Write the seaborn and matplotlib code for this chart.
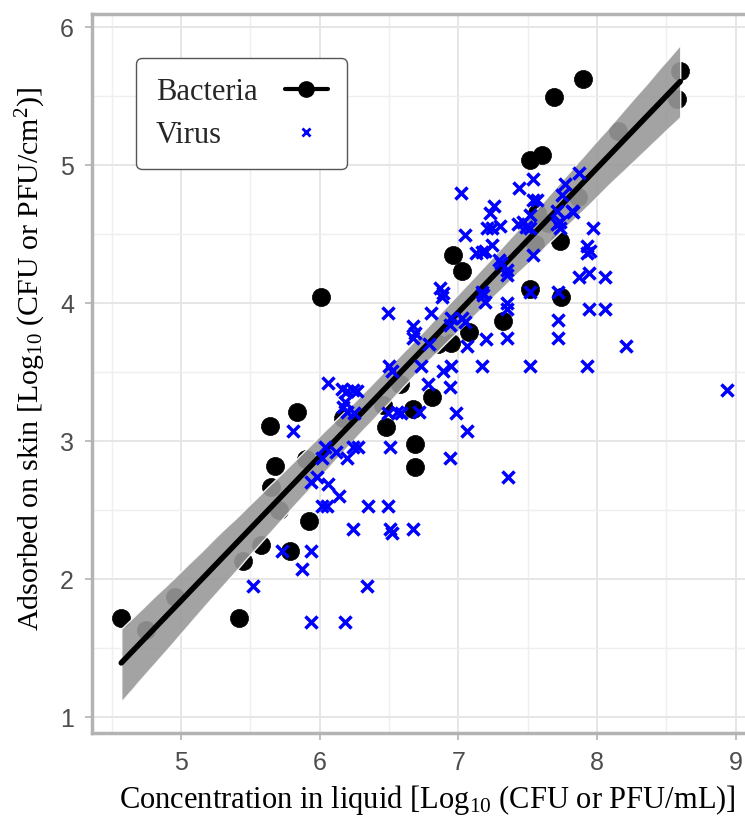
import numpy as np
import pandas as pd
import matplotlib
matplotlib.use("Agg")
import matplotlib.pyplot as plt
from matplotlib.lines import Line2D
import seaborn as sns

# ---- data ----
bact_x = [4.57, 4.75, 4.96, 5.42, 5.45, 5.58, 5.64, 5.65, 5.68, 5.71, 5.79, 5.84,
          5.90, 5.92, 6.01, 6.17, 6.46, 6.48, 6.58, 6.67, 6.69, 6.69, 6.81, 6.85,
          6.95, 6.96, 7.03, 7.08, 7.32, 7.52, 7.52, 7.55, 7.57, 7.60, 7.65, 7.69,
          7.73, 7.74, 7.86, 7.90, 8.15, 8.58, 8.60]
bact_y = [1.72, 1.63, 1.87, 1.72, 2.13, 2.25, 3.11, 2.67, 2.82, 2.50, 2.20, 3.21,
          2.87, 2.42, 4.04, 3.17, 3.26, 3.10, 3.41, 3.23, 2.98, 2.81, 3.32, 3.70,
          3.71, 4.35, 4.23, 3.79, 3.87, 4.10, 5.04, 4.43, 4.65, 5.07, 4.58, 5.49,
          4.45, 4.04, 4.77, 5.62, 5.25, 5.48, 5.68]

virus_x = [5.52, 5.73, 5.87, 5.94, 5.94, 6.18, 6.34, 5.81, 5.98, 5.94, 6.06, 6.14,
           6.02, 6.05, 6.35, 6.49, 6.24, 6.51, 6.52, 6.67,
           6.06, 6.16, 6.20, 6.24, 6.27, 6.18, 6.17, 6.20, 6.25, 6.04, 6.02, 6.12,
           6.20, 6.24, 6.28, 6.51, 6.49, 6.56, 6.59, 6.72, 6.98, 6.50, 6.52, 6.73,
           6.89, 6.95, 6.78, 6.94, 6.94, 7.06, 7.36, 6.49, 6.67, 6.69, 6.67, 6.79,
           7.17, 7.52, 7.93, 8.21, 7.72, 7.72, 7.35, 7.20, 7.06, 6.95, 6.94, 7.03,
           7.05, 6.80, 6.87, 6.89, 6.88, 7.17, 7.18, 7.19, 7.52, 7.72, 7.35, 7.35,
           7.94, 8.06, 7.87, 7.94, 8.06, 8.94,
           7.05, 7.13, 7.17, 7.19, 7.24, 7.29, 7.31, 7.35, 7.35, 7.21, 7.24, 7.30,
           7.26, 7.23, 7.02, 7.44, 7.54, 7.54, 7.57, 7.43, 7.47, 7.49, 7.52, 7.52,
           7.54, 7.71, 7.82, 7.83, 7.73, 7.71, 7.73, 7.75, 7.77, 7.87, 7.97, 7.93,
           7.95, 7.93]
virus_y = [1.95, 2.20, 2.07, 2.20, 1.69, 1.69, 1.95, 3.07, 2.74, 2.70, 2.69, 2.60,
           2.53, 2.53, 2.53, 2.53, 2.36, 2.36, 2.33, 2.36,
           3.42, 3.38, 3.36, 3.37, 3.36, 3.28, 3.25, 3.21, 3.20, 2.96, 2.88, 2.92,
           2.88, 2.96, 2.96, 2.96, 3.20, 3.21, 3.20, 3.21, 3.20, 3.54, 3.51, 3.54,
           3.51, 3.54, 3.41, 3.39, 2.88, 3.07, 2.74, 3.93, 3.83, 3.78, 3.75, 3.70,
           3.54, 3.54, 3.54, 3.69, 3.75, 3.88, 3.75, 3.74, 3.69, 3.89, 3.84, 3.89,
           3.86, 3.93, 4.11, 4.07, 4.04, 4.08, 4.06, 4.01, 4.08, 4.08, 4.00, 3.96,
           3.96, 3.96, 4.19, 4.22, 4.19, 3.37,
           4.49, 4.36, 4.37, 4.38, 4.42, 4.31, 4.29, 4.24, 4.20, 4.54, 4.54, 4.56,
           4.70, 4.65, 4.80, 4.83, 4.90, 4.75, 4.75, 4.57, 4.59, 4.55, 4.54, 4.64,
           4.35, 4.67, 4.67, 4.66, 4.59, 4.57, 4.54, 4.78, 4.86, 4.94, 4.54, 4.41,
           4.38, 4.36]

series_labels = ["Bacteria", "Virus"]
x_ticks = [5, 6, 7, 8, 9]
y_ticks = [1, 2, 3, 4, 5, 6]

bact = pd.DataFrame({"x": bact_x, "y": bact_y})
virus = pd.DataFrame({"x": virus_x, "y": virus_y})

# ---- style ----
sns.set_theme(style="whitegrid")
plt.rcParams["font.family"] = ["Liberation Sans", "DejaVu Sans"]
plt.rcParams["mathtext.fontset"] = "custom"
plt.rcParams["mathtext.rm"] = "Liberation Serif"
plt.rcParams["mathtext.it"] = "Liberation Serif:italic"

fig = plt.figure(figsize=(7.45, 8.17), dpi=100)
ax = fig.add_axes([0.1235, 0.1028, 0.8765, 0.880])

# bacteria points
sns.scatterplot(data=bact, x="x", y="y", ax=ax, color="black", s=170,
                edgecolor="black", linewidth=0.5, zorder=2)
# regression on bacteria
sns.regplot(data=bact, x="x", y="y", ax=ax, scatter=False, ci=95, seed=3,
            color="black", line_kws=dict(color="black", lw=4, zorder=4))
for coll in ax.collections[1:]:
    coll.set_facecolor("#999999")
    coll.set_alpha(0.9)
    coll.set_zorder(3)
# virus points
sns.scatterplot(data=virus, x="x", y="y", ax=ax, color="#0000ff", marker="x",
                s=75, linewidth=2.5, zorder=5)

ax.set_xlim(4.359, 9.067)
ax.set_ylim(0.884, 6.094)
ax.set_xticks(x_ticks)
ax.set_yticks(y_ticks)
ax.set_xticks(np.arange(4.5, 9.1, 1.0), minor=True)
ax.set_yticks(np.arange(1.5, 6.0, 1.0), minor=True)
ax.grid(which="major", color="#e6e6e6", lw=1.4)
ax.grid(which="minor", color="#efefef", lw=1.0)
ax.set_axisbelow(True)

for side in ["left", "bottom", "top"]:
    ax.spines[side].set_visible(True)
    ax.spines[side].set_color("#b3b3b3")
    ax.spines[side].set_linewidth(2.5)
ax.spines["right"].set_visible(False)

ax.tick_params(axis="both", which="major", direction="out", length=5, width=1.2,
               color="#b3b3b3", labelcolor="#4d4d4d", labelsize=18, pad=8,
               bottom=True, left=True)
ax.tick_params(axis="both", which="minor", length=0)

serif = ["Liberation Serif", "DejaVu Serif"]
ax.set_xlabel(r"Concentration in liquid [Log$_{10}$ (CFU or PFU/mL)]",
              family=serif, fontsize=22, color="black")
ax.set_ylabel(r"Adsorbed on skin [Log$_{10}$ (CFU or PFU/cm$^{2}$)]",
              family=serif, fontsize=21.5, color="black")
ax.xaxis.set_label_coords(0.513, -0.070)
ax.yaxis.set_label_coords(-0.067, 0.521)

handles = [
    Line2D([0], [0], color="black", lw=3, marker="o", markersize=11,
           label=series_labels[0]),
    Line2D([0], [0], color="#0000ff", lw=0, marker="x", markersize=6,
           markeredgewidth=2, label=series_labels[1]),
]
leg = ax.legend(handles=handles, loc="upper left", bbox_to_anchor=(0.067, 0.939),
                markerfirst=False, frameon=True, fancybox=True,
                prop={"family": serif, "size": 22}, handlelength=1.4,
                borderpad=0.65, labelspacing=0.45, handletextpad=0.9,
                borderaxespad=0)
leg.get_frame().set_edgecolor("#555555")
leg.get_frame().set_linewidth(1.0)
leg.get_frame().set_alpha(1)
leg.set_zorder(10)

# left-align legend labels while keeping the handles in one column
try:
    fig.canvas.draw()
    r = fig.canvas.get_renderer()
    col = leg._legend_handle_box.get_children()[0]
    col.align = "left"
    widths = [t.get_window_extent(r).width for t in leg.get_texts()]
    maxw = max(widths)
    for item, w in zip(col.get_children(), widths):
        item.sep = item.sep + (maxw - w) * 72.0 / fig.dpi
except Exception:
    pass

fig.savefig("out.png", dpi=100)
